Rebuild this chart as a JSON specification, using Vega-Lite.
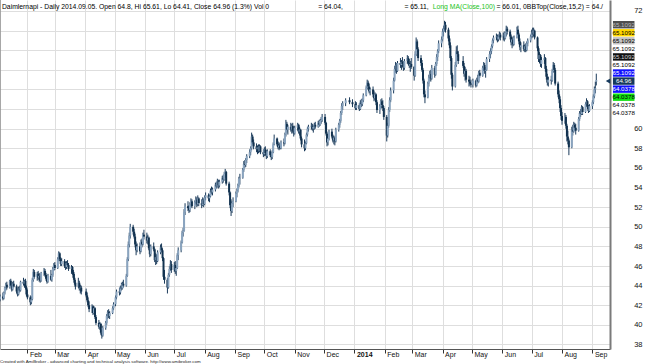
{
"$schema":"https://vega.github.io/schema/vega-lite/v6.json",
"width":610,"height":349,
"autosize":{"type":"none"},
"padding":{"left":0,"top":0,"right":35,"bottom":15},
"background":"#ffffff",
"config":{"font":"Liberation Sans","view":{"stroke":null},"axis":{"labelFont":"Liberation Sans","labelOverlap":false}},
"title":{"text":"Created with AmiBroker - advanced charting and technical analysis software. http://www.amibroker.com","orient":"bottom","anchor":"start","frame":"group","fontSize":4.4,"fontWeight":"normal","color":"#222222","offset":3},
"datasets":{
"px":[
{"d":"2013-01-04","o":42.6,"h":43.1,"l":42.4,"c":42.9},
{"d":"2013-01-07","o":42.9,"h":43.3,"l":42.5,"c":42.7},
{"d":"2013-01-08","o":42.7,"h":43.4,"l":42.6,"c":43.3},
{"d":"2013-01-09","o":43.3,"h":43.9,"l":43.1,"c":43.8},
{"d":"2013-01-10","o":43.8,"h":44.3,"l":43.5,"c":44.1},
{"d":"2013-01-11","o":44.1,"h":44.4,"l":43.6,"c":43.8},
{"d":"2013-01-14","o":43.8,"h":44.6,"l":43.7,"c":44.5},
{"d":"2013-01-15","o":44.5,"h":44.7,"l":43.9,"c":44.0},
{"d":"2013-01-16","o":44.0,"h":44.2,"l":43.4,"c":43.6},
{"d":"2013-01-17","o":43.6,"h":44.4,"l":43.5,"c":44.2},
{"d":"2013-01-18","o":44.2,"h":44.5,"l":43.8,"c":43.9},
{"d":"2013-01-21","o":43.9,"h":44.1,"l":43.2,"c":43.4},
{"d":"2013-01-22","o":43.4,"h":43.7,"l":42.9,"c":43.1},
{"d":"2013-01-23","o":43.1,"h":43.9,"l":43.0,"c":43.7},
{"d":"2013-01-24","o":43.7,"h":44.0,"l":43.3,"c":43.5},
{"d":"2013-01-25","o":43.5,"h":44.5,"l":43.4,"c":44.4},
{"d":"2013-01-28","o":44.4,"h":44.8,"l":44.0,"c":44.2},
{"d":"2013-01-29","o":44.2,"h":44.6,"l":43.8,"c":44.5},
{"d":"2013-01-30","o":44.5,"h":44.7,"l":43.6,"c":43.8},
{"d":"2013-01-31","o":43.8,"h":44.0,"l":42.9,"c":43.1},
{"d":"2013-02-01","o":43.1,"h":43.6,"l":42.6,"c":42.8},
{"d":"2013-02-04","o":42.8,"h":43.0,"l":42.0,"c":42.3},
{"d":"2013-02-05","o":42.3,"h":42.9,"l":42.1,"c":42.6},
{"d":"2013-02-06","o":42.6,"h":44.8,"l":42.5,"c":44.6},
{"d":"2013-02-07","o":44.6,"h":45.7,"l":44.4,"c":45.4},
{"d":"2013-02-08","o":45.4,"h":45.6,"l":44.7,"c":44.9},
{"d":"2013-02-11","o":44.9,"h":45.4,"l":44.5,"c":45.2},
{"d":"2013-02-12","o":45.2,"h":45.5,"l":44.6,"c":44.8},
{"d":"2013-02-13","o":44.8,"h":45.3,"l":44.4,"c":45.0},
{"d":"2013-02-14","o":45.0,"h":45.2,"l":44.3,"c":44.5},
{"d":"2013-02-15","o":44.5,"h":45.4,"l":44.4,"c":45.3},
{"d":"2013-02-18","o":45.3,"h":45.8,"l":45.0,"c":45.5},
{"d":"2013-02-19","o":45.5,"h":45.7,"l":44.9,"c":45.1},
{"d":"2013-02-20","o":45.1,"h":45.3,"l":44.5,"c":44.7},
{"d":"2013-02-21","o":44.7,"h":45.0,"l":44.2,"c":44.4},
{"d":"2013-02-22","o":44.4,"h":45.2,"l":44.3,"c":45.0},
{"d":"2013-02-25","o":45.0,"h":45.6,"l":44.5,"c":44.6},
{"d":"2013-02-26","o":44.6,"h":45.2,"l":44.4,"c":45.1},
{"d":"2013-02-27","o":45.1,"h":45.9,"l":44.9,"c":45.7},
{"d":"2013-02-28","o":45.7,"h":46.3,"l":45.5,"c":46.1},
{"d":"2013-03-01","o":46.1,"h":46.4,"l":45.6,"c":45.8},
{"d":"2013-03-04","o":45.8,"h":46.9,"l":45.7,"c":46.7},
{"d":"2013-03-05","o":46.7,"h":47.5,"l":46.5,"c":47.3},
{"d":"2013-03-06","o":47.3,"h":47.4,"l":46.5,"c":46.7},
{"d":"2013-03-07","o":46.7,"h":46.9,"l":46.0,"c":46.2},
{"d":"2013-03-08","o":46.2,"h":46.8,"l":46.0,"c":46.5},
{"d":"2013-03-11","o":46.5,"h":46.7,"l":45.8,"c":46.0},
{"d":"2013-03-12","o":46.0,"h":46.4,"l":45.6,"c":45.9},
{"d":"2013-03-13","o":45.9,"h":46.5,"l":45.7,"c":46.3},
{"d":"2013-03-14","o":46.3,"h":46.6,"l":45.9,"c":46.1},
{"d":"2013-03-15","o":46.1,"h":46.3,"l":45.5,"c":45.7},
{"d":"2013-03-18","o":45.7,"h":46.1,"l":45.2,"c":45.9},
{"d":"2013-03-19","o":45.9,"h":46.0,"l":45.1,"c":45.4},
{"d":"2013-03-20","o":45.4,"h":45.6,"l":44.6,"c":44.8},
{"d":"2013-03-21","o":44.8,"h":45.2,"l":44.1,"c":44.3},
{"d":"2013-03-22","o":44.3,"h":44.6,"l":43.6,"c":43.9},
{"d":"2013-03-25","o":43.9,"h":44.8,"l":43.8,"c":44.3},
{"d":"2013-03-26","o":44.3,"h":44.5,"l":43.5,"c":43.7},
{"d":"2013-03-27","o":43.7,"h":44.1,"l":43.2,"c":43.8},
{"d":"2013-03-28","o":43.8,"h":44.0,"l":43.1,"c":43.4},
{"d":"2013-04-02","o":43.4,"h":43.7,"l":42.8,"c":43.0},
{"d":"2013-04-03","o":43.0,"h":43.3,"l":42.3,"c":42.5},
{"d":"2013-04-04","o":42.5,"h":42.8,"l":41.8,"c":42.0},
{"d":"2013-04-05","o":42.0,"h":42.4,"l":41.3,"c":41.6},
{"d":"2013-04-08","o":41.6,"h":42.1,"l":41.2,"c":41.9},
{"d":"2013-04-09","o":41.9,"h":42.0,"l":41.0,"c":41.2},
{"d":"2013-04-10","o":41.2,"h":41.9,"l":41.1,"c":41.7},
{"d":"2013-04-11","o":41.7,"h":41.8,"l":40.6,"c":40.8},
{"d":"2013-04-12","o":40.8,"h":41.0,"l":40.0,"c":40.2},
{"d":"2013-04-15","o":40.2,"h":40.5,"l":39.6,"c":39.8},
{"d":"2013-04-16","o":39.8,"h":40.3,"l":39.5,"c":40.1},
{"d":"2013-04-17","o":40.1,"h":40.2,"l":39.0,"c":39.2},
{"d":"2013-04-18","o":39.2,"h":39.5,"l":38.6,"c":38.9},
{"d":"2013-04-19","o":38.9,"h":39.9,"l":38.8,"c":39.7},
{"d":"2013-04-22","o":39.7,"h":40.4,"l":39.5,"c":40.2},
{"d":"2013-04-23","o":40.2,"h":41.1,"l":40.0,"c":40.9},
{"d":"2013-04-24","o":40.9,"h":41.5,"l":40.6,"c":41.3},
{"d":"2013-04-25","o":41.3,"h":41.6,"l":40.7,"c":40.9},
{"d":"2013-04-26","o":40.9,"h":41.4,"l":40.6,"c":41.2},
{"d":"2013-04-29","o":41.2,"h":41.9,"l":41.1,"c":41.7},
{"d":"2013-04-30","o":41.7,"h":42.3,"l":41.5,"c":42.1},
{"d":"2013-05-02","o":42.1,"h":43.0,"l":41.9,"c":42.8},
{"d":"2013-05-03","o":42.8,"h":43.6,"l":42.6,"c":43.4},
{"d":"2013-05-06","o":43.4,"h":43.8,"l":43.0,"c":43.3},
{"d":"2013-05-07","o":43.3,"h":44.0,"l":43.1,"c":43.9},
{"d":"2013-05-08","o":43.9,"h":44.3,"l":43.5,"c":43.7},
{"d":"2013-05-09","o":43.7,"h":44.4,"l":43.6,"c":44.2},
{"d":"2013-05-10","o":44.2,"h":44.6,"l":43.8,"c":44.0},
{"d":"2013-05-13","o":44.0,"h":45.2,"l":43.9,"c":45.0},
{"d":"2013-05-14","o":45.0,"h":46.9,"l":44.9,"c":46.7},
{"d":"2013-05-15","o":46.7,"h":48.5,"l":46.5,"c":48.2},
{"d":"2013-05-16","o":48.2,"h":49.4,"l":47.9,"c":49.1},
{"d":"2013-05-17","o":49.1,"h":50.3,"l":48.8,"c":50.0},
{"d":"2013-05-20","o":50.0,"h":50.2,"l":49.2,"c":49.5},
{"d":"2013-05-21","o":49.5,"h":49.8,"l":48.8,"c":49.0},
{"d":"2013-05-22","o":49.0,"h":49.3,"l":47.9,"c":48.2},
{"d":"2013-05-23","o":48.2,"h":48.5,"l":47.1,"c":47.6},
{"d":"2013-05-24","o":47.6,"h":48.3,"l":47.4,"c":48.0},
{"d":"2013-05-27","o":48.0,"h":48.4,"l":47.2,"c":47.5},
{"d":"2013-05-28","o":47.5,"h":48.7,"l":47.4,"c":48.5},
{"d":"2013-05-29","o":48.5,"h":48.8,"l":47.9,"c":48.2},
{"d":"2013-05-30","o":48.2,"h":49.4,"l":48.1,"c":49.2},
{"d":"2013-05-31","o":49.2,"h":49.7,"l":48.7,"c":49.0},
{"d":"2013-06-03","o":49.0,"h":49.4,"l":48.3,"c":48.6},
{"d":"2013-06-04","o":48.6,"h":49.2,"l":48.2,"c":48.9},
{"d":"2013-06-05","o":48.9,"h":49.0,"l":47.6,"c":47.8},
{"d":"2013-06-06","o":47.8,"h":48.1,"l":46.9,"c":47.2},
{"d":"2013-06-07","o":47.2,"h":48.2,"l":47.0,"c":48.0},
{"d":"2013-06-10","o":48.0,"h":48.4,"l":47.5,"c":47.7},
{"d":"2013-06-11","o":47.7,"h":47.8,"l":46.4,"c":46.6},
{"d":"2013-06-12","o":46.6,"h":47.3,"l":46.1,"c":46.9},
{"d":"2013-06-13","o":46.9,"h":47.2,"l":46.2,"c":46.5},
{"d":"2013-06-14","o":46.5,"h":47.6,"l":46.4,"c":47.4},
{"d":"2013-06-17","o":47.4,"h":48.2,"l":47.2,"c":47.9},
{"d":"2013-06-18","o":47.9,"h":48.3,"l":47.4,"c":47.6},
{"d":"2013-06-19","o":47.6,"h":47.8,"l":46.5,"c":46.8},
{"d":"2013-06-20","o":46.8,"h":46.9,"l":44.6,"c":44.9},
{"d":"2013-06-21","o":44.9,"h":45.6,"l":44.2,"c":44.6},
{"d":"2013-06-24","o":44.6,"h":44.8,"l":43.2,"c":43.8},
{"d":"2013-06-25","o":43.8,"h":45.3,"l":43.7,"c":45.1},
{"d":"2013-06-26","o":45.1,"h":46.0,"l":44.9,"c":45.7},
{"d":"2013-06-27","o":45.7,"h":46.6,"l":45.5,"c":46.2},
{"d":"2013-06-28","o":46.2,"h":46.5,"l":45.3,"c":45.6},
{"d":"2013-07-01","o":45.6,"h":46.4,"l":45.4,"c":46.1},
{"d":"2013-07-02","o":46.1,"h":46.5,"l":45.2,"c":45.5},
{"d":"2013-07-03","o":45.5,"h":46.0,"l":45.0,"c":45.8},
{"d":"2013-07-04","o":45.8,"h":47.3,"l":45.7,"c":47.1},
{"d":"2013-07-05","o":47.1,"h":47.9,"l":46.6,"c":47.6},
{"d":"2013-07-08","o":47.6,"h":48.6,"l":47.4,"c":48.4},
{"d":"2013-07-09","o":48.4,"h":49.6,"l":48.3,"c":49.4},
{"d":"2013-07-10","o":49.4,"h":49.9,"l":49.0,"c":49.6},
{"d":"2013-07-11","o":49.6,"h":51.8,"l":49.5,"c":51.5},
{"d":"2013-07-12","o":51.5,"h":52.4,"l":51.2,"c":52.1},
{"d":"2013-07-15","o":52.1,"h":52.6,"l":51.6,"c":51.9},
{"d":"2013-07-16","o":51.9,"h":52.2,"l":51.4,"c":51.7},
{"d":"2013-07-17","o":51.7,"h":52.5,"l":51.5,"c":52.3},
{"d":"2013-07-18","o":52.3,"h":52.9,"l":52.0,"c":52.6},
{"d":"2013-07-19","o":52.6,"h":52.8,"l":51.9,"c":52.1},
{"d":"2013-07-22","o":52.1,"h":52.7,"l":51.8,"c":52.5},
{"d":"2013-07-23","o":52.5,"h":53.1,"l":52.2,"c":52.8},
{"d":"2013-07-24","o":52.8,"h":53.0,"l":52.0,"c":52.3},
{"d":"2013-07-25","o":52.3,"h":53.2,"l":52.1,"c":52.9},
{"d":"2013-07-26","o":52.9,"h":53.0,"l":52.1,"c":52.4},
{"d":"2013-07-29","o":52.4,"h":52.8,"l":51.9,"c":52.2},
{"d":"2013-07-30","o":52.2,"h":53.0,"l":52.1,"c":52.7},
{"d":"2013-07-31","o":52.7,"h":52.9,"l":52.0,"c":52.3},
{"d":"2013-08-01","o":52.3,"h":53.2,"l":52.2,"c":53.0},
{"d":"2013-08-02","o":53.0,"h":53.5,"l":52.7,"c":53.2},
{"d":"2013-08-05","o":53.2,"h":53.4,"l":52.6,"c":52.9},
{"d":"2013-08-06","o":52.9,"h":53.3,"l":52.5,"c":53.1},
{"d":"2013-08-07","o":53.1,"h":53.9,"l":53.0,"c":53.7},
{"d":"2013-08-08","o":53.7,"h":54.1,"l":53.3,"c":53.5},
{"d":"2013-08-09","o":53.5,"h":54.0,"l":53.2,"c":53.8},
{"d":"2013-08-12","o":53.8,"h":54.5,"l":53.6,"c":54.3},
{"d":"2013-08-13","o":54.3,"h":54.6,"l":53.9,"c":54.1},
{"d":"2013-08-14","o":54.1,"h":54.9,"l":54.0,"c":54.7},
{"d":"2013-08-15","o":54.7,"h":54.8,"l":53.9,"c":54.2},
{"d":"2013-08-16","o":54.2,"h":54.8,"l":54.0,"c":54.6},
{"d":"2013-08-19","o":54.6,"h":55.2,"l":54.4,"c":55.0},
{"d":"2013-08-20","o":55.0,"h":55.3,"l":54.5,"c":54.8},
{"d":"2013-08-21","o":54.8,"h":55.6,"l":54.7,"c":55.4},
{"d":"2013-08-22","o":55.4,"h":55.9,"l":55.0,"c":55.6},
{"d":"2013-08-23","o":55.6,"h":55.7,"l":54.2,"c":54.4},
{"d":"2013-08-26","o":54.4,"h":54.6,"l":53.2,"c":53.5},
{"d":"2013-08-27","o":53.5,"h":53.6,"l":51.9,"c":52.2},
{"d":"2013-08-28","o":52.2,"h":52.8,"l":51.1,"c":51.6},
{"d":"2013-08-29","o":51.6,"h":52.6,"l":51.4,"c":52.4},
{"d":"2013-08-30","o":52.4,"h":53.0,"l":52.0,"c":52.6},
{"d":"2013-09-02","o":52.6,"h":53.6,"l":52.5,"c":53.4},
{"d":"2013-09-03","o":53.4,"h":53.9,"l":53.0,"c":53.7},
{"d":"2013-09-04","o":53.7,"h":54.4,"l":53.5,"c":54.2},
{"d":"2013-09-05","o":54.2,"h":55.1,"l":54.0,"c":54.9},
{"d":"2013-09-06","o":54.9,"h":55.4,"l":54.3,"c":55.0},
{"d":"2013-09-09","o":55.0,"h":56.0,"l":54.9,"c":55.8},
{"d":"2013-09-10","o":55.8,"h":56.7,"l":55.6,"c":56.4},
{"d":"2013-09-11","o":56.4,"h":56.8,"l":56.0,"c":56.3},
{"d":"2013-09-12","o":56.3,"h":57.0,"l":56.1,"c":56.8},
{"d":"2013-09-13","o":56.8,"h":57.4,"l":56.5,"c":57.2},
{"d":"2013-09-16","o":57.2,"h":57.9,"l":57.0,"c":57.6},
{"d":"2013-09-17","o":57.6,"h":58.2,"l":57.3,"c":58.0},
{"d":"2013-09-18","o":58.0,"h":59.6,"l":57.8,"c":59.2},
{"d":"2013-09-19","o":59.2,"h":59.4,"l":58.4,"c":58.6},
{"d":"2013-09-20","o":58.6,"h":58.9,"l":57.9,"c":58.2},
{"d":"2013-09-23","o":58.2,"h":58.5,"l":57.6,"c":57.9},
{"d":"2013-09-24","o":57.9,"h":58.3,"l":57.4,"c":58.1},
{"d":"2013-09-25","o":58.1,"h":58.4,"l":57.5,"c":57.7},
{"d":"2013-09-26","o":57.7,"h":58.4,"l":57.6,"c":58.2},
{"d":"2013-09-27","o":58.2,"h":58.3,"l":57.4,"c":57.6},
{"d":"2013-09-30","o":57.6,"h":57.9,"l":57.1,"c":57.4},
{"d":"2013-10-01","o":57.4,"h":58.1,"l":57.2,"c":57.9},
{"d":"2013-10-02","o":57.9,"h":58.2,"l":57.3,"c":57.5},
{"d":"2013-10-03","o":57.5,"h":57.8,"l":56.9,"c":57.2},
{"d":"2013-10-04","o":57.2,"h":57.9,"l":57.0,"c":57.7},
{"d":"2013-10-07","o":57.7,"h":57.9,"l":57.1,"c":57.3},
{"d":"2013-10-08","o":57.3,"h":57.6,"l":56.8,"c":57.1},
{"d":"2013-10-09","o":57.1,"h":57.8,"l":56.9,"c":57.6},
{"d":"2013-10-10","o":57.6,"h":58.6,"l":57.5,"c":58.4},
{"d":"2013-10-11","o":58.4,"h":59.4,"l":58.3,"c":59.0},
{"d":"2013-10-14","o":59.0,"h":59.1,"l":58.2,"c":58.4},
{"d":"2013-10-15","o":58.4,"h":58.7,"l":57.9,"c":58.1},
{"d":"2013-10-16","o":58.1,"h":58.6,"l":57.8,"c":58.3},
{"d":"2013-10-17","o":58.3,"h":58.5,"l":57.9,"c":58.0},
{"d":"2013-10-18","o":58.0,"h":58.8,"l":57.9,"c":58.6},
{"d":"2013-10-21","o":58.6,"h":59.0,"l":58.2,"c":58.5},
{"d":"2013-10-22","o":58.5,"h":59.6,"l":58.4,"c":59.4},
{"d":"2013-10-23","o":59.4,"h":60.9,"l":59.2,"c":60.5},
{"d":"2013-10-24","o":60.5,"h":60.7,"l":59.6,"c":59.9},
{"d":"2013-10-25","o":59.9,"h":60.4,"l":59.4,"c":60.2},
{"d":"2013-10-28","o":60.2,"h":60.6,"l":59.7,"c":59.9},
{"d":"2013-10-29","o":59.9,"h":60.5,"l":59.5,"c":60.3},
{"d":"2013-10-30","o":60.3,"h":60.6,"l":59.6,"c":59.8},
{"d":"2013-10-31","o":59.8,"h":60.2,"l":59.2,"c":59.5},
{"d":"2013-11-01","o":59.5,"h":60.3,"l":59.4,"c":60.1},
{"d":"2013-11-04","o":60.1,"h":60.6,"l":59.8,"c":60.4},
{"d":"2013-11-05","o":60.4,"h":60.5,"l":59.5,"c":59.7},
{"d":"2013-11-06","o":59.7,"h":60.2,"l":59.3,"c":59.9},
{"d":"2013-11-07","o":59.9,"h":60.0,"l":58.8,"c":59.0},
{"d":"2013-11-08","o":59.0,"h":59.2,"l":58.1,"c":58.4},
{"d":"2013-11-11","o":58.4,"h":58.9,"l":57.7,"c":58.0},
{"d":"2013-11-12","o":58.0,"h":58.7,"l":57.8,"c":58.5},
{"d":"2013-11-13","o":58.5,"h":59.6,"l":58.4,"c":59.4},
{"d":"2013-11-14","o":59.4,"h":60.2,"l":59.2,"c":60.0},
{"d":"2013-11-15","o":60.0,"h":60.4,"l":59.7,"c":60.2},
{"d":"2013-11-18","o":60.2,"h":60.6,"l":59.9,"c":60.3},
{"d":"2013-11-19","o":60.3,"h":60.5,"l":59.8,"c":60.0},
{"d":"2013-11-20","o":60.0,"h":60.4,"l":59.6,"c":60.2},
{"d":"2013-11-21","o":60.2,"h":60.6,"l":59.9,"c":60.4},
{"d":"2013-11-22","o":60.4,"h":60.7,"l":60.0,"c":60.2},
{"d":"2013-11-25","o":60.2,"h":60.8,"l":60.1,"c":60.6},
{"d":"2013-11-26","o":60.6,"h":60.9,"l":60.2,"c":60.4},
{"d":"2013-11-27","o":60.4,"h":61.0,"l":60.3,"c":60.8},
{"d":"2013-11-28","o":60.8,"h":61.2,"l":60.5,"c":60.9},
{"d":"2013-11-29","o":60.9,"h":61.5,"l":60.7,"c":61.2},
{"d":"2013-12-02","o":61.2,"h":61.5,"l":60.4,"c":60.6},
{"d":"2013-12-03","o":60.6,"h":60.7,"l":59.3,"c":59.5},
{"d":"2013-12-04","o":59.5,"h":59.7,"l":58.2,"c":58.6},
{"d":"2013-12-05","o":58.6,"h":59.3,"l":58.3,"c":59.0},
{"d":"2013-12-06","o":59.0,"h":59.9,"l":58.8,"c":59.7},
{"d":"2013-12-09","o":59.7,"h":60.0,"l":59.0,"c":59.2},
{"d":"2013-12-10","o":59.2,"h":59.4,"l":58.6,"c":58.8},
{"d":"2013-12-11","o":58.8,"h":59.3,"l":58.4,"c":59.1},
{"d":"2013-12-12","o":59.1,"h":59.2,"l":58.3,"c":58.7},
{"d":"2013-12-13","o":58.7,"h":60.1,"l":58.6,"c":59.9},
{"d":"2013-12-16","o":59.9,"h":60.6,"l":59.7,"c":60.4},
{"d":"2013-12-17","o":60.4,"h":61.0,"l":60.1,"c":60.8},
{"d":"2013-12-18","o":60.8,"h":61.8,"l":60.6,"c":61.6},
{"d":"2013-12-19","o":61.6,"h":62.6,"l":61.4,"c":62.3},
{"d":"2013-12-20","o":62.3,"h":62.8,"l":61.9,"c":62.6},
{"d":"2013-12-23","o":62.6,"h":63.1,"l":62.3,"c":62.9},
{"d":"2013-12-27","o":62.9,"h":63.2,"l":62.5,"c":62.7},
{"d":"2013-12-30","o":62.7,"h":63.0,"l":62.2,"c":62.5},
{"d":"2014-01-02","o":62.5,"h":62.8,"l":61.9,"c":62.1},
{"d":"2014-01-03","o":62.1,"h":62.7,"l":61.9,"c":62.4},
{"d":"2014-01-06","o":62.4,"h":62.6,"l":61.8,"c":62.0},
{"d":"2014-01-07","o":62.0,"h":62.9,"l":61.9,"c":62.7},
{"d":"2014-01-08","o":62.7,"h":63.0,"l":62.2,"c":62.5},
{"d":"2014-01-09","o":62.5,"h":63.1,"l":62.3,"c":62.9},
{"d":"2014-01-10","o":62.9,"h":63.6,"l":62.7,"c":63.4},
{"d":"2014-01-13","o":63.4,"h":64.4,"l":63.3,"c":64.2},
{"d":"2014-01-14","o":64.2,"h":65.0,"l":64.0,"c":64.7},
{"d":"2014-01-15","o":64.7,"h":64.9,"l":64.0,"c":64.3},
{"d":"2014-01-16","o":64.3,"h":64.6,"l":63.6,"c":63.8},
{"d":"2014-01-17","o":63.8,"h":64.2,"l":63.4,"c":64.0},
{"d":"2014-01-20","o":64.0,"h":64.3,"l":63.2,"c":63.5},
{"d":"2014-01-21","o":63.5,"h":63.9,"l":62.8,"c":63.1},
{"d":"2014-01-22","o":63.1,"h":63.7,"l":62.9,"c":63.5},
{"d":"2014-01-23","o":63.5,"h":63.6,"l":62.4,"c":62.7},
{"d":"2014-01-24","o":62.7,"h":62.9,"l":61.6,"c":61.9},
{"d":"2014-01-27","o":61.9,"h":62.5,"l":61.5,"c":62.3},
{"d":"2014-01-28","o":62.3,"h":63.0,"l":62.0,"c":62.8},
{"d":"2014-01-29","o":62.8,"h":63.1,"l":62.1,"c":62.4},
{"d":"2014-01-30","o":62.4,"h":62.9,"l":61.8,"c":62.1},
{"d":"2014-01-31","o":62.1,"h":62.3,"l":60.9,"c":61.2},
{"d":"2014-02-03","o":61.2,"h":61.4,"l":58.7,"c":59.3},
{"d":"2014-02-04","o":59.3,"h":60.6,"l":59.1,"c":60.3},
{"d":"2014-02-05","o":60.3,"h":62.2,"l":60.1,"c":61.9},
{"d":"2014-02-06","o":61.9,"h":63.2,"l":61.7,"c":62.9},
{"d":"2014-02-07","o":62.9,"h":64.2,"l":62.7,"c":63.9},
{"d":"2014-02-10","o":63.9,"h":65.2,"l":63.6,"c":64.9},
{"d":"2014-02-11","o":64.9,"h":66.4,"l":64.8,"c":66.1},
{"d":"2014-02-12","o":66.1,"h":66.8,"l":65.7,"c":66.5},
{"d":"2014-02-13","o":66.5,"h":66.7,"l":65.6,"c":65.9},
{"d":"2014-02-14","o":65.9,"h":66.9,"l":65.8,"c":66.7},
{"d":"2014-02-17","o":66.7,"h":67.2,"l":66.2,"c":66.5},
{"d":"2014-02-18","o":66.5,"h":67.0,"l":66.0,"c":66.8},
{"d":"2014-02-19","o":66.8,"h":67.3,"l":66.3,"c":66.6},
{"d":"2014-02-20","o":66.6,"h":66.9,"l":65.9,"c":66.2},
{"d":"2014-02-21","o":66.2,"h":67.1,"l":66.0,"c":66.9},
{"d":"2014-02-24","o":66.9,"h":67.5,"l":66.6,"c":67.2},
{"d":"2014-02-25","o":67.2,"h":67.4,"l":66.5,"c":66.7},
{"d":"2014-02-26","o":66.7,"h":67.1,"l":66.2,"c":66.4},
{"d":"2014-02-27","o":66.4,"h":66.9,"l":65.8,"c":66.6},
{"d":"2014-02-28","o":66.6,"h":67.2,"l":66.1,"c":66.3},
{"d":"2014-03-03","o":66.3,"h":66.4,"l":64.9,"c":65.4},
{"d":"2014-03-04","o":65.4,"h":67.9,"l":65.3,"c":67.6},
{"d":"2014-03-05","o":67.6,"h":69.3,"l":67.4,"c":68.9},
{"d":"2014-03-06","o":68.9,"h":69.1,"l":67.8,"c":68.1},
{"d":"2014-03-07","o":68.1,"h":68.3,"l":66.9,"c":67.2},
{"d":"2014-03-10","o":67.2,"h":67.5,"l":66.4,"c":66.7},
{"d":"2014-03-11","o":66.7,"h":67.0,"l":65.8,"c":66.0},
{"d":"2014-03-12","o":66.0,"h":66.2,"l":64.6,"c":64.9},
{"d":"2014-03-13","o":64.9,"h":65.1,"l":63.2,"c":63.5},
{"d":"2014-03-14","o":63.5,"h":63.9,"l":62.6,"c":63.2},
{"d":"2014-03-17","o":63.2,"h":64.8,"l":63.1,"c":64.6},
{"d":"2014-03-18","o":64.6,"h":65.5,"l":64.3,"c":65.2},
{"d":"2014-03-19","o":65.2,"h":65.9,"l":64.9,"c":65.6},
{"d":"2014-03-20","o":65.6,"h":66.0,"l":64.8,"c":65.1},
{"d":"2014-03-21","o":65.1,"h":66.5,"l":65.0,"c":66.2},
{"d":"2014-03-24","o":66.2,"h":66.4,"l":65.2,"c":65.5},
{"d":"2014-03-25","o":65.5,"h":66.8,"l":65.4,"c":66.6},
{"d":"2014-03-26","o":66.6,"h":67.6,"l":66.4,"c":67.3},
{"d":"2014-03-27","o":67.3,"h":68.1,"l":66.9,"c":67.9},
{"d":"2014-03-28","o":67.9,"h":69.0,"l":67.7,"c":68.7},
{"d":"2014-03-31","o":68.7,"h":69.4,"l":68.3,"c":69.1},
{"d":"2014-04-01","o":69.1,"h":70.2,"l":68.9,"c":69.9},
{"d":"2014-04-02","o":69.9,"h":70.5,"l":69.4,"c":70.2},
{"d":"2014-04-03","o":70.2,"h":71.0,"l":69.9,"c":70.6},
{"d":"2014-04-04","o":70.6,"h":70.9,"l":69.8,"c":70.1},
{"d":"2014-04-07","o":70.1,"h":70.3,"l":68.9,"c":69.2},
{"d":"2014-04-08","o":69.2,"h":69.5,"l":68.2,"c":68.5},
{"d":"2014-04-09","o":68.5,"h":68.8,"l":66.9,"c":67.2},
{"d":"2014-04-10","o":67.2,"h":67.4,"l":65.1,"c":65.5},
{"d":"2014-04-11","o":65.5,"h":65.7,"l":63.9,"c":64.3},
{"d":"2014-04-14","o":64.3,"h":66.8,"l":64.2,"c":66.5},
{"d":"2014-04-15","o":66.5,"h":68.4,"l":66.3,"c":67.9},
{"d":"2014-04-16","o":67.9,"h":68.5,"l":67.3,"c":67.6},
{"d":"2014-04-17","o":67.6,"h":67.9,"l":66.6,"c":66.9},
{"d":"2014-04-22","o":66.9,"h":67.4,"l":66.2,"c":66.4},
{"d":"2014-04-23","o":66.4,"h":66.7,"l":65.3,"c":65.6},
{"d":"2014-04-24","o":65.6,"h":66.3,"l":64.9,"c":65.9},
{"d":"2014-04-25","o":65.9,"h":66.1,"l":64.7,"c":65.0},
{"d":"2014-04-28","o":65.0,"h":65.4,"l":64.3,"c":64.8},
{"d":"2014-04-29","o":64.8,"h":65.3,"l":64.4,"c":64.6},
{"d":"2014-04-30","o":64.6,"h":65.0,"l":64.2,"c":64.5},
{"d":"2014-05-02","o":64.5,"h":65.1,"l":64.2,"c":64.9},
{"d":"2014-05-05","o":64.9,"h":65.0,"l":64.2,"c":64.4},
{"d":"2014-05-06","o":64.4,"h":65.2,"l":64.3,"c":65.0},
{"d":"2014-05-07","o":65.0,"h":65.5,"l":64.6,"c":64.8},
{"d":"2014-05-08","o":64.8,"h":65.9,"l":64.7,"c":65.7},
{"d":"2014-05-09","o":65.7,"h":66.0,"l":65.2,"c":65.4},
{"d":"2014-05-12","o":65.4,"h":66.4,"l":65.3,"c":66.2},
{"d":"2014-05-13","o":66.2,"h":66.8,"l":65.9,"c":66.5},
{"d":"2014-05-14","o":66.5,"h":66.7,"l":65.6,"c":65.9},
{"d":"2014-05-15","o":65.9,"h":66.3,"l":65.2,"c":66.0},
{"d":"2014-05-16","o":66.0,"h":67.3,"l":65.9,"c":67.1},
{"d":"2014-05-19","o":67.1,"h":67.9,"l":66.8,"c":67.6},
{"d":"2014-05-20","o":67.6,"h":68.2,"l":67.2,"c":67.9},
{"d":"2014-05-21","o":67.9,"h":68.6,"l":67.6,"c":68.4},
{"d":"2014-05-22","o":68.4,"h":69.2,"l":68.2,"c":69.0},
{"d":"2014-05-23","o":69.0,"h":69.5,"l":68.7,"c":69.3},
{"d":"2014-05-26","o":69.3,"h":69.7,"l":69.0,"c":69.4},
{"d":"2014-05-27","o":69.4,"h":69.6,"l":68.8,"c":69.1},
{"d":"2014-05-28","o":69.1,"h":69.6,"l":68.9,"c":69.4},
{"d":"2014-05-29","o":69.4,"h":69.9,"l":69.1,"c":69.6},
{"d":"2014-05-30","o":69.6,"h":69.8,"l":69.0,"c":69.3},
{"d":"2014-06-02","o":69.3,"h":69.8,"l":69.0,"c":69.5},
{"d":"2014-06-03","o":69.5,"h":69.9,"l":68.9,"c":69.2},
{"d":"2014-06-04","o":69.2,"h":69.9,"l":69.1,"c":69.8},
{"d":"2014-06-05","o":69.8,"h":70.5,"l":69.4,"c":70.2},
{"d":"2014-06-06","o":70.2,"h":70.4,"l":69.6,"c":69.9},
{"d":"2014-06-09","o":69.9,"h":70.1,"l":69.1,"c":69.4},
{"d":"2014-06-10","o":69.4,"h":69.6,"l":68.5,"c":68.8},
{"d":"2014-06-11","o":68.8,"h":69.3,"l":68.2,"c":69.1},
{"d":"2014-06-12","o":69.1,"h":69.4,"l":68.4,"c":68.6},
{"d":"2014-06-13","o":68.6,"h":69.5,"l":68.5,"c":69.3},
{"d":"2014-06-16","o":69.3,"h":70.4,"l":69.2,"c":70.1},
{"d":"2014-06-17","o":70.1,"h":70.5,"l":69.4,"c":69.6},
{"d":"2014-06-18","o":69.6,"h":69.8,"l":68.6,"c":68.9},
{"d":"2014-06-19","o":68.9,"h":69.2,"l":68.0,"c":68.3},
{"d":"2014-06-20","o":68.3,"h":68.8,"l":67.8,"c":68.5},
{"d":"2014-06-23","o":68.5,"h":68.9,"l":67.9,"c":68.1},
{"d":"2014-06-24","o":68.1,"h":68.6,"l":67.8,"c":68.4},
{"d":"2014-06-25","o":68.4,"h":68.7,"l":67.8,"c":68.0},
{"d":"2014-06-26","o":68.0,"h":68.9,"l":67.9,"c":68.7},
{"d":"2014-06-27","o":68.7,"h":69.2,"l":68.4,"c":69.0},
{"d":"2014-06-30","o":69.0,"h":69.6,"l":68.8,"c":69.4},
{"d":"2014-07-01","o":69.4,"h":70.1,"l":69.2,"c":69.8},
{"d":"2014-07-02","o":69.8,"h":70.3,"l":69.3,"c":69.6},
{"d":"2014-07-03","o":69.6,"h":70.3,"l":69.4,"c":70.0},
{"d":"2014-07-04","o":70.0,"h":70.1,"l":69.1,"c":69.3},
{"d":"2014-07-07","o":69.3,"h":69.4,"l":67.9,"c":68.2},
{"d":"2014-07-08","o":68.2,"h":68.4,"l":66.8,"c":67.1},
{"d":"2014-07-09","o":67.1,"h":67.8,"l":66.7,"c":67.5},
{"d":"2014-07-10","o":67.5,"h":67.6,"l":66.3,"c":66.6},
{"d":"2014-07-11","o":66.6,"h":67.3,"l":66.2,"c":67.0},
{"d":"2014-07-14","o":67.0,"h":67.6,"l":66.6,"c":67.2},
{"d":"2014-07-15","o":67.2,"h":67.3,"l":65.8,"c":66.1},
{"d":"2014-07-16","o":66.1,"h":66.4,"l":65.0,"c":65.3},
{"d":"2014-07-17","o":65.3,"h":65.6,"l":64.4,"c":64.7},
{"d":"2014-07-18","o":64.7,"h":65.3,"l":64.3,"c":65.0},
{"d":"2014-07-21","o":65.0,"h":65.4,"l":64.5,"c":64.9},
{"d":"2014-07-22","o":64.9,"h":66.1,"l":64.8,"c":65.9},
{"d":"2014-07-23","o":65.9,"h":66.8,"l":65.7,"c":66.5},
{"d":"2014-07-24","o":66.5,"h":66.7,"l":65.8,"c":66.0},
{"d":"2014-07-25","o":66.0,"h":66.2,"l":64.4,"c":64.6},
{"d":"2014-07-28","o":64.6,"h":64.8,"l":63.2,"c":63.5},
{"d":"2014-07-29","o":63.5,"h":63.9,"l":62.6,"c":63.0},
{"d":"2014-07-30","o":63.0,"h":63.3,"l":61.7,"c":62.1},
{"d":"2014-07-31","o":62.1,"h":62.4,"l":60.9,"c":61.3},
{"d":"2014-08-01","o":61.3,"h":61.7,"l":60.4,"c":60.8},
{"d":"2014-08-04","o":60.8,"h":61.6,"l":60.5,"c":61.2},
{"d":"2014-08-05","o":61.2,"h":61.4,"l":60.0,"c":60.3},
{"d":"2014-08-06","o":60.3,"h":60.5,"l":58.7,"c":59.2},
{"d":"2014-08-07","o":59.2,"h":59.8,"l":58.4,"c":58.8},
{"d":"2014-08-08","o":58.8,"h":59.0,"l":57.3,"c":58.1},
{"d":"2014-08-11","o":58.1,"h":60.2,"l":58.0,"c":59.9},
{"d":"2014-08-12","o":59.9,"h":60.4,"l":59.3,"c":59.7},
{"d":"2014-08-13","o":59.7,"h":60.7,"l":59.6,"c":60.4},
{"d":"2014-08-14","o":60.4,"h":60.6,"l":59.8,"c":60.1},
{"d":"2014-08-15","o":60.1,"h":60.5,"l":59.4,"c":59.8},
{"d":"2014-08-18","o":59.8,"h":61.2,"l":59.7,"c":61.0},
{"d":"2014-08-19","o":61.0,"h":61.8,"l":60.8,"c":61.6},
{"d":"2014-08-20","o":61.6,"h":62.0,"l":61.2,"c":61.5},
{"d":"2014-08-21","o":61.5,"h":62.4,"l":61.4,"c":62.2},
{"d":"2014-08-22","o":62.2,"h":62.3,"l":61.4,"c":61.7},
{"d":"2014-08-25","o":61.7,"h":62.7,"l":61.6,"c":62.5},
{"d":"2014-08-26","o":62.5,"h":63.1,"l":62.2,"c":62.8},
{"d":"2014-08-27","o":62.8,"h":62.9,"l":62.0,"c":62.3},
{"d":"2014-08-28","o":62.3,"h":62.4,"l":61.6,"c":61.8},
{"d":"2014-08-29","o":61.8,"h":62.5,"l":61.7,"c":62.3},
{"d":"2014-09-01","o":62.3,"h":62.9,"l":62.0,"c":62.7},
{"d":"2014-09-02","o":62.7,"h":63.5,"l":62.5,"c":63.3},
{"d":"2014-09-03","o":63.3,"h":64.3,"l":63.1,"c":64.0},
{"d":"2014-09-04","o":64.0,"h":64.8,"l":63.6,"c":64.13},
{"d":"2014-09-05","o":64.8,"h":65.61,"l":64.41,"c":64.96}
],
"vals":[
{"k":1,"v":"65.1092"},{"k":2,"v":"65.1092"},{"k":3,"v":"65.1092"},{"k":4,"v":"65.1092"},
{"k":5,"v":"65.1092"},{"k":6,"v":"65.1092"},{"k":7,"v":"65.1092"},{"k":8,"v":"64.96"},
{"k":9,"v":"64.0378"},{"k":10,"v":"64.0378"},{"k":11,"v":"64.0378"},{"k":12,"v":"64.0378"}
]
},
"layer":[
{"layer":[
 {"data":{"values":[{}]},
  "mark":{"type":"rule","color":"#8a8a8a","strokeWidth":1.5},
  "encoding":{"x":{"datum":{"year":2013,"month":1,"date":4,"utc":true},"type":"temporal"}}},
 {"data":{"name":"px"},
  "mark":{"type":"rule","strokeWidth":1,"color":"#1a3a5a"},
  "encoding":{
   "x":{"field":"d","type":"temporal",
    "scale":{"type":"utc","padding":0,"domain":[{"year":2013,"month":1,"date":4,"utc":true},{"year":2014,"month":9,"date":19,"utc":true}]},
    "axis":{"title":null,"tickCount":{"interval":"month","step":1},
     "grid":true,"gridColor":"#dedede","gridWidth":1,
     "domainColor":"#555555","domainWidth":1,"tickColor":"#333333","tickSize":4,
     "labelAlign":"left","labelBaseline":"top","labelPadding":-3,"labelOffset":2,"labelFontSize":7,"labelColor":"#111111",
     "labelOverlap":false,"labelFlush":false,
     "labelExpr":"utcmonth(datum.value) == 0 ? utcFormat(datum.value, '%Y') : utcFormat(datum.value, '%b')",
     "labelFontWeight":{"condition":{"test":"utcmonth(datum.value) == 0","value":"bold"},"value":"normal"}}},
   "y":{"field":"l","type":"quantitative",
    "scale":{"domain":[37.54,73.12],"nice":false,"zero":false,"padding":0},
    "axis":{"title":null,"orient":"right","values":[38,40,42,44,46,48,50,52,54,56,58,60,62,64,66,68,70,72],"tickCount":60,"format":"d",
     "labelExpr":"datum.value > 61 && datum.value < 71 ? '' : datum.label",
     "grid":true,"gridColor":"#dedede","domainColor":"#7a7a7a","domainWidth":2,"ticks":false,"labelOverlap":false,
     "labelAlign":"right","labelBaseline":"middle","labelPadding":32,"labelFontSize":7.5,"labelColor":"#111111"}},
   "y2":{"field":"h"}}},
 {"data":{"name":"px"},
  "mark":{"type":"bar","size":2},
  "encoding":{
   "x":{"field":"d","type":"temporal"},
   "y":{"field":"o","type":"quantitative"},
   "y2":{"field":"c"},
   "color":{"condition":{"test":"datum.c >= datum.o","value":"#8aa4bf"},"value":"#12324f"}}},
 {"data":{"values":[{}]},
  "mark":{"type":"text","text":"Daimlernapi - Daily 2014.09.05. Open 64.8, Hi 65.61, Lo 64.41, Close 64.96 (1.3%) Vol 0","align":"left","baseline":"middle","fontSize":6.8,"color":"#000000"},
  "encoding":{"x":{"datum":{"year":2013,"month":1,"date":6,"utc":true},"type":"temporal"},"y":{"datum":72.4,"type":"quantitative"}}},
 {"data":{"values":[{}]},
  "mark":{"type":"text","text":"= 64.04,","align":"left","baseline":"middle","fontSize":6.8,"color":"#000000"},
  "encoding":{"x":{"datum":{"year":2013,"month":11,"date":25,"utc":true},"type":"temporal"},"y":{"datum":72.4,"type":"quantitative"}}},
 {"data":{"values":[{}]},
  "mark":{"type":"text","text":"= 65.11,","align":"left","baseline":"middle","fontSize":6.8,"color":"#000000"},
  "encoding":{"x":{"datum":{"year":2014,"month":2,"date":21,"utc":true},"type":"temporal"},"y":{"datum":72.4,"type":"quantitative"}}},
 {"data":{"values":[{}]},
  "mark":{"type":"text","text":"Long MA(Close,100)","align":"left","baseline":"middle","fontSize":6.8,"color":"#22c322"},
  "encoding":{"x":{"datum":{"year":2014,"month":3,"date":22,"utc":true},"type":"temporal"},"y":{"datum":72.4,"type":"quantitative"}}},
 {"data":{"values":[{}]},
  "mark":{"type":"text","text":"= 66.01, 0BBTop(Close,15,2) = 64./","align":"left","baseline":"middle","fontSize":6.8,"color":"#000000"},
  "encoding":{"x":{"datum":{"year":2014,"month":5,"date":26,"utc":true},"type":"temporal"},"y":{"datum":72.4,"type":"quantitative"}}}
]},
{"data":{"name":"vals"},
 "encoding":{"y":{"field":"k","type":"ordinal","scale":{"domain":[1,2,3,4,5,6,7,8,9,10,11,12],"range":[21,117],"paddingInner":0.08,"paddingOuter":0},"axis":null}},
 "layer":[
 {"mark":{"type":"rect"},
  "encoding":{
   "x":{"datum":{"year":2014,"month":9,"date":22,"utc":true},"type":"temporal"},
   "x2":{"datum":{"year":2014,"month":10,"date":14,"utc":true}},
   "color":{"field":"k","type":"ordinal","legend":null,
    "scale":{"domain":[1,2,3,4,5,6,7,8,9,10,11,12],"range":["#4f4f4f","#ffd700","#c4c4c4","#ffffff","#111111","#ffffff","#1010ff","#16395c","#1010ff","#10e010","#ffffff","#ffffff"]}}}},
 {"mark":{"type":"text","fontSize":6.2,"align":"center","baseline":"middle"},
  "encoding":{
   "x":{"datum":{"year":2014,"month":10,"date":3,"utc":true},"type":"temporal"},
   "text":{"field":"v"},
   "fill":{"field":"k","type":"ordinal","legend":null,
    "scale":{"domain":[1,2,3,4,5,6,7,8,9,10,11,12],"range":["#b8b8b8","#000000","#000000","#000000","#cfcfcf","#000000","#ffffff","#ffffff","#ffffff","#000000","#000000","#000000"]}}}},
 {"data":{"values":[{"k":8}]},
  "mark":{"type":"point","shape":"triangle-left","filled":true,"size":28,"color":"#16395c","opacity":1},
  "encoding":{"x":{"datum":{"year":2014,"month":9,"date":17,"utc":true},"type":"temporal"}}}
 ]}
],
"resolve":{"scale":{"y":"independent"}}
}
